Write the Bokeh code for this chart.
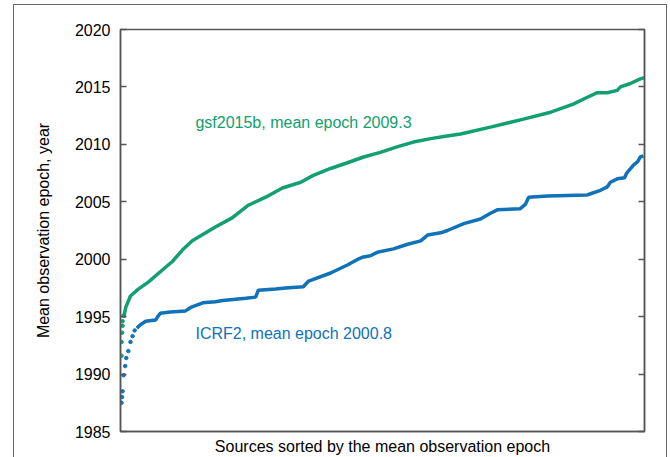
from bokeh.plotting import figure
from bokeh.models import LinearAxis, FixedTicker, Label, CustomJSTickFormatter, InlineStyleSheet
from bokeh.embed import file_html
from bokeh.resources import INLINE

# ---- data (source rank scaled 0..1000, mean observation epoch in years) ----
gsf_head_rank = [2, 2, 3, 4, 4, 6]
gsf_head_epoch = [1991.6, 1992.8, 1993.6, 1994.2, 1994.6, 1995.1]

gsf_rank = [6, 10, 19, 34, 53, 86, 99, 118, 137, 181, 213, 244, 277, 309,
            344, 368, 401, 433, 464, 496, 529, 559, 592, 620, 649, 706, 769,
            821, 864, 891, 910, 929, 948, 954, 973, 992, 1000]
gsf_epoch = [1994.9, 1995.8, 1996.8, 1997.4, 1998.0, 1999.3, 1999.8, 2000.8,
             2001.6, 2002.8, 2003.6, 2004.7, 2005.4, 2006.2, 2006.7, 2007.3,
             2007.9, 2008.4, 2008.9, 2009.3, 2009.8, 2010.2, 2010.5, 2010.7,
             2010.9, 2011.5, 2012.2, 2012.8, 2013.5, 2014.1, 2014.5, 2014.5,
             2014.7, 2015.0, 2015.3, 2015.7, 2015.8]

icrf_head_rank = [2, 3, 4, 6, 9, 11, 15, 19, 23, 27]
icrf_head_epoch = [1987.5, 1988.0, 1988.5, 1989.9, 1990.7, 1991.4, 1992.0,
                   1992.8, 1993.3, 1993.8]

icrf_rank = [31, 38, 48, 67, 71, 76, 95, 124, 134, 157, 181, 195, 239, 258,
             263, 296, 315, 349, 359, 401, 433, 453, 464, 477, 490, 521, 548,
             573, 586, 611, 624, 655, 687, 706, 719, 763, 773, 779, 815, 891,
             897, 916, 929, 935, 948, 962, 966, 979, 987, 992, 998]
icrf_epoch = [1994.0, 1994.3, 1994.6, 1994.7, 1995.0, 1995.3, 1995.4, 1995.5,
              1995.8, 1996.2, 1996.3, 1996.4, 1996.6, 1996.7, 1997.3, 1997.4,
              1997.5, 1997.6, 1998.1, 1998.8, 1999.5, 2000.0, 2000.2, 2000.3,
              2000.6, 2000.9, 2001.3, 2001.6, 2002.1, 2002.3, 2002.5, 2003.1,
              2003.5, 2004.0, 2004.3, 2004.4, 2004.8, 2005.4, 2005.5, 2005.6,
              2005.7, 2006.0, 2006.3, 2006.7, 2007.0, 2007.1, 2007.5, 2008.2,
              2008.5, 2008.9, 2009.0]

y_ticks = [1985, 1990, 1995, 2000, 2005, 2010, 2015, 2020]
gsf_label = "gsf2015b, mean epoch 2009.3"
icrf_label = "ICRF2, mean epoch 2000.8"
x_title = "Sources sorted by the mean observation epoch"
y_title = "Mean observation epoch, year"

GREEN = "#12a06f"
BLUE = "#1072b8"
AXC = "#555555"
FONT = "Liberation Sans"

# outer panel border drawn with CSS (decoration only)
border_css = InlineStyleSheet(css="""
:host { overflow: hidden; }
:host::after {
  content: ""; position: absolute; left: 13px; top: 4px;
  width: 654px; height: 520px; border: 1.5px solid #666;
  pointer-events: none; box-sizing: border-box;
}
""")

p = figure(width=670, height=457, output_backend="svg", toolbar_location=None,
           x_range=(0, 1000), y_range=(1985, 2020),
           min_border_left=120, min_border_right=26,
           min_border_top=29, min_border_bottom=26,
           stylesheets=[border_css])
p.grid.visible = False
p.outline_line_color = AXC
p.outline_line_width = 1.5
p.background_fill_color = "white"
p.border_fill_color = "white"

# y axis (left)
ya = p.yaxis[0]
ya.ticker = FixedTicker(ticks=y_ticks)
ya.major_tick_in = 6
ya.major_tick_out = 0
ya.minor_tick_line_color = None
ya.axis_line_color = AXC
ya.axis_line_width = 1.5
ya.major_tick_line_color = AXC
ya.major_tick_line_width = 1.5
ya.major_label_text_font = FONT
ya.major_label_text_font_size = "16px"
ya.major_label_text_color = "black"
ya.major_label_standoff = 10
ya.axis_label = y_title
ya.axis_label_text_font = FONT
ya.axis_label_text_font_size = "16px"
ya.axis_label_text_font_style = "normal"
ya.axis_label_text_color = "black"
ya.axis_label_standoff = 20

# right axis with inward ticks, no labels
ra = LinearAxis(ticker=FixedTicker(ticks=y_ticks),
                formatter=CustomJSTickFormatter(code="return ''"))
ra.major_tick_in = 6
ra.major_tick_out = 0
ra.minor_tick_line_color = None
ra.axis_line_color = AXC
ra.axis_line_width = 1.5
ra.major_tick_line_color = AXC
ra.major_tick_line_width = 1.5
p.add_layout(ra, "right")

# x axis (no ticks) with its title
xa = p.xaxis[0]
xa.ticker = FixedTicker(ticks=[])
xa.major_tick_line_color = None
xa.minor_tick_line_color = None
xa.axis_line_color = AXC
xa.axis_line_width = 1.5
xa.axis_label = x_title
xa.axis_label_text_font = FONT
xa.axis_label_text_font_size = "16px"
xa.axis_label_text_font_style = "normal"
xa.axis_label_text_color = "black"
xa.axis_label_standoff = 6

# data
p.scatter(gsf_head_rank, gsf_head_epoch, size=3.5, color=GREEN)
p.line(gsf_rank, gsf_epoch, line_width=3.5, color=GREEN)
p.scatter(icrf_head_rank, icrf_head_epoch, size=3.5, color=BLUE)
p.line(icrf_rank, icrf_epoch, line_width=3.5, color=BLUE)

# text annotations
p.add_layout(Label(x=143, y=2011.9, text=gsf_label, text_color=GREEN,
                   text_font=FONT, text_font_size="16px",
                   text_baseline="middle", text_align="left"))
p.add_layout(Label(x=143, y=1993.5, text=icrf_label, text_color=BLUE,
                   text_font=FONT, text_font_size="16px",
                   text_baseline="middle", text_align="left"))

open("out.html", "w").write(file_html(p, INLINE))
